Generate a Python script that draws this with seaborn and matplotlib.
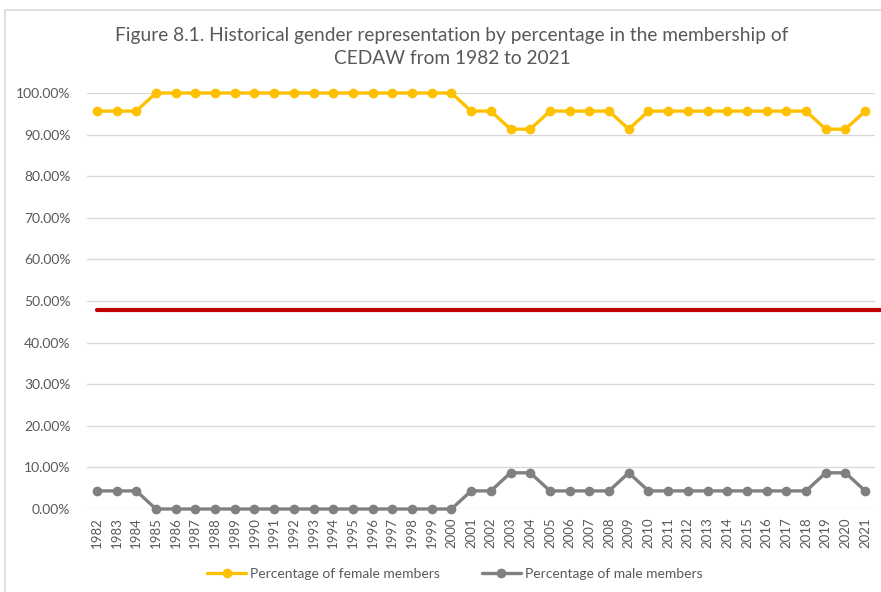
import pandas as pd
import seaborn as sns
import matplotlib.pyplot as plt
from matplotlib.patches import Rectangle

# Data
years = [str(y) for y in range(1982, 2022)]
female_pct = [95.65, 95.65, 95.65] + [100.0] * 16 + [95.65, 95.65, 91.3, 91.3,
              95.65, 95.65, 95.65, 95.65, 91.3] + [95.65] * 9 + [91.3, 91.3, 95.65]
male_pct = [4.35, 4.35, 4.35] + [0.0] * 16 + [4.35, 4.35, 8.7, 8.7,
            4.35, 4.35, 4.35, 4.35, 8.7] + [4.35] * 9 + [8.7, 8.7, 4.35]
parity_line = 47.8
yticks = [0, 10, 20, 30, 40, 50, 60, 70, 80, 90, 100]

df = pd.DataFrame({'year': years, 'female': female_pct, 'male': male_pct})
df['pos'] = range(len(df))

sns.set_style('white')
plt.rcParams['font.family'] = ['Lato', 'DejaVu Sans']

fig = plt.figure(figsize=(8.81, 5.92), dpi=100)
ax = fig.add_axes([87 / 881, 1 - 509 / 592, 788 / 881, 416 / 592])

# chart border like the Excel frame
fig.patches.append(Rectangle((5 / 881, -0.05), 1.1, 1 - 10 / 592 + 0.05,
                             transform=fig.transFigure, fill=False,
                             edgecolor='#d9d9d9', linewidth=1.2))

grey_txt = '#595959'
for v in yticks:
    ax.axhline(v, color='#d9d9d9', linewidth=1, zorder=0)

ax.axhline(parity_line, xmin=10 / 788, xmax=(881 - 87) / 788, color='#c00000',
           linewidth=3, clip_on=False, zorder=2)

sns.lineplot(data=df, x='pos', y='female', color='#ffc000', marker='o',
             markersize=7, markeredgewidth=0, linewidth=2.4,
             label='Percentage of female members', ax=ax, clip_on=False, zorder=3)
sns.lineplot(data=df, x='pos', y='male', color='#808080', marker='o',
             markersize=7, markeredgewidth=0, linewidth=2.4,
             label='Percentage of male members', ax=ax, clip_on=False, zorder=3)

ax.set_xlim(-0.5, len(years) - 0.5)
ax.set_ylim(0, 100)
ax.set_xticks(df['pos'])
ax.set_xticklabels(years, rotation=90, fontsize=9.5, color=grey_txt)
ax.set_yticks(yticks)
ax.set_yticklabels([f'{v:.2f}%' for v in yticks], fontsize=10, color=grey_txt)
ax.tick_params(axis='both', length=0)
ax.tick_params(axis='x', pad=6)
ax.tick_params(axis='y', pad=12)
ax.set_xlabel('')
ax.set_ylabel('')
for s in ax.spines.values():
    s.set_visible(False)

fig.text(452 / 881, 1 - 36 / 592,
         'Figure 8.1. Historical gender representation by percentage in the membership of',
         ha='center', va='center', fontsize=13.8, color=grey_txt)
fig.text(452 / 881, 1 - 59 / 592, 'CEDAW from 1982 to 2021',
         ha='center', va='center', fontsize=13.8, color=grey_txt)

ax.legend(loc='center', bbox_to_anchor=(455 / 881, 1 - 574 / 592),
          bbox_transform=fig.transFigure, ncol=2, frameon=False, fontsize=10,
          handlelength=2.8, columnspacing=3, labelcolor=grey_txt, handletextpad=0.3)

fig.savefig('out.png', dpi=100)
